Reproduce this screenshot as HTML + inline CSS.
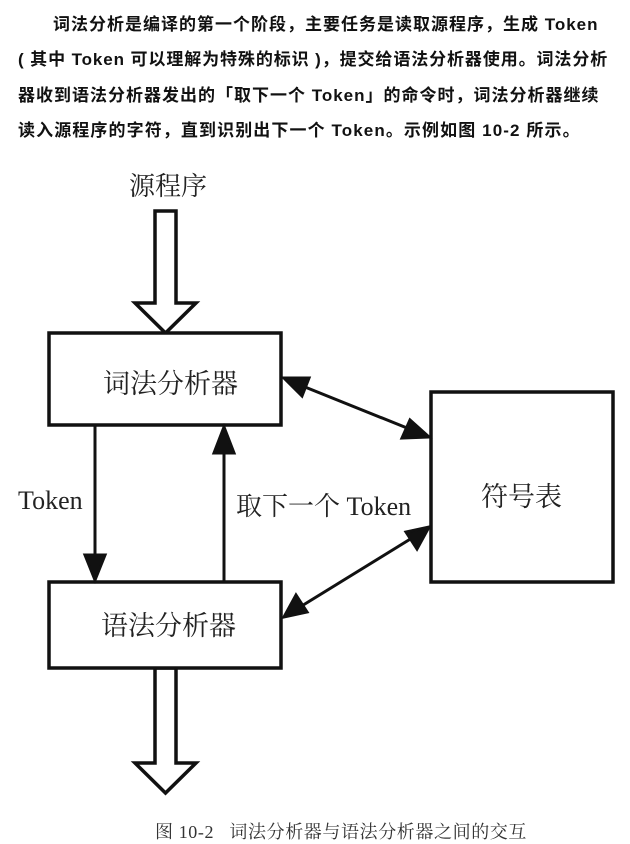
<!DOCTYPE html>
<html><head><meta charset="utf-8"><style>
body{margin:0;width:630px;height:844px;background:#fff;position:relative;overflow:hidden;font-family:"Liberation Sans","Noto Sans CJK SC",sans-serif;color:#111}
.l{position:absolute;font-size:17px;font-weight:bold;white-space:nowrap;left:18px;letter-spacing:1.1px}
.s{position:absolute;font-family:"Liberation Serif","Noto Serif CJK SC",serif;font-size:27px;white-space:nowrap;color:#222}
</style></head><body>
<div class="l" style="top:10px;left:53px;letter-spacing:1px">词法分析是编译的第一个阶段，主要任务是读取源程序，生成 Token</div>
<div class="l" style="top:45px;letter-spacing:0.9px">( 其中 Token 可以理解为特殊的标识 )，提交给语法分析器使用。词法分析</div>
<div class="l" style="top:81px;letter-spacing:1px">器收到语法分析器发出的「取下一个 Token」的命令时，词法分析器继续</div>
<div class="l" style="top:116px;letter-spacing:1.1px">读入源程序的字符，直到识别出下一个 Token。示例如图 10-2 所示。</div>

<svg width="630" height="844" style="position:absolute;left:0;top:0">
<g fill="#fff" stroke="#111" stroke-width="3.5">
<path d="M155,211 H176 V303 H196 L165.5,333 L135,303 H155 Z"/>
<path d="M155,668 H176 V763 H196 L165.5,793 L135,763 H155 Z"/>
<rect x="49" y="333" width="232" height="92"/>
<rect x="49" y="582" width="232" height="86"/>
<rect x="431" y="392" width="182" height="190"/>
</g>
<g stroke="#111" stroke-width="3">
<line x1="95" y1="426" x2="95" y2="556"/>
<path d="M85,555 L95,580 L105,555z" fill="#111"/>
<line x1="224" y1="582" x2="224" y2="452"/>
<path d="M214,453 L224,427 L234,453z" fill="#111"/>
<line x1="300" y1="385" x2="412" y2="430"/>
<path d="M284,378 L309,378 L302,396z" fill="#111"/>
<path d="M429,437 L402,438 L410,420z" fill="#111"/>
<line x1="300" y1="607" x2="412" y2="538"/>
<path d="M284,617 L296,595 L307,612z" fill="#111"/>
<path d="M429,527 L417,549 L406,532z" fill="#111"/>
</g>
</svg>
<div class="s" style="left:129px;top:166px;font-size:26px">源程序</div>
<div class="s" style="left:103px;top:362px">词法分析器</div>
<div class="s" style="left:101px;top:604px">语法分析器</div>
<div class="s" style="left:481px;top:475px">符号表</div>
<div class="s" style="left:18px;top:486px;font-size:26px">Token</div>
<div class="s" style="left:236px;top:486px;font-size:26px">取下一个 Token</div>
<div class="s" style="left:155px;top:818px;font-size:18px;color:#333;letter-spacing:0.6px">图 10-2 &nbsp; 词法分析器与语法分析器之间的交互</div>
</body></html>
